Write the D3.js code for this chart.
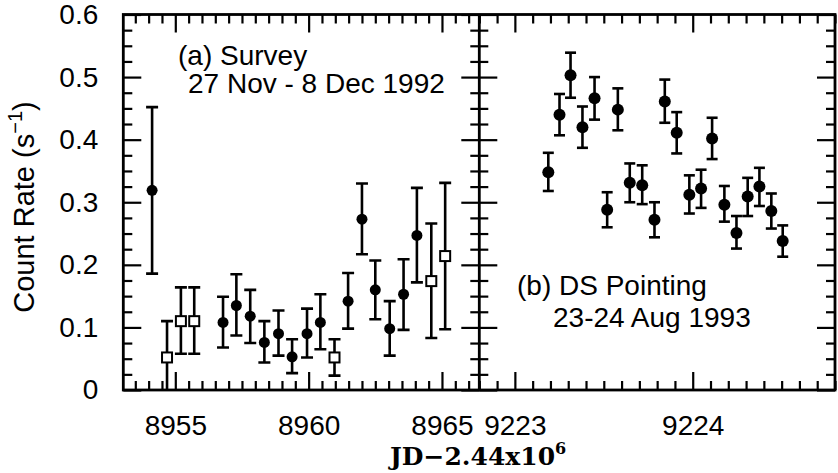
<!DOCTYPE html>
<html><head><meta charset="utf-8">
<script src="https://cdn.jsdelivr.net/npm/d3@7"></script>
<style>
body{margin:0;background:#fff;}
svg{display:block;}
text{font-family:"Liberation Sans",Arial,Helvetica,sans-serif;fill:#000;}
</style></head>
<body>
<svg id="c" width="838" height="473"></svg>
<script>
// ---- Panel (a): Survey, JD-2.44e6 ----
const surveyCircleJD  = [8954.13, 8956.79, 8957.29, 8957.81, 8958.34, 8958.87, 8959.38, 8959.94, 8960.44, 8961.48, 8962.00, 8962.50, 8963.04, 8963.56, 8964.06];
const surveyCircleVal = [0.319, 0.108, 0.135, 0.118, 0.076, 0.090, 0.053, 0.090, 0.108, 0.142, 0.273, 0.160, 0.098, 0.153, 0.247];
const surveyCircleHi  = [0.452, 0.149, 0.185, 0.160, 0.110, 0.127, 0.081, 0.130, 0.153, 0.187, 0.330, 0.207, 0.142, 0.209, 0.323];
const surveyCircleLo  = [0.186, 0.068, 0.087, 0.075, 0.044, 0.055, 0.027, 0.052, 0.065, 0.098, 0.217, 0.113, 0.055, 0.096, 0.172];

const surveySquareJD  = [8954.69, 8955.21, 8955.71, 8960.97, 8964.60, 8965.12];
const surveySquareVal = [0.052, 0.110, 0.110, 0.052, 0.174, 0.214];
const surveySquareHi  = [0.110, 0.164, 0.164, 0.081, 0.266, 0.331];
const surveySquareLo  = [-0.010, 0.058, 0.058, 0.023, 0.083, 0.097];

// ---- Panel (b): DS pointing ----
const pointJD  = [9223.188, 9223.251, 9223.313, 9223.380, 9223.448, 9223.519, 9223.579, 9223.646, 9223.716, 9223.785, 9223.843, 9223.910, 9223.981, 9224.047, 9224.109, 9224.178, 9224.246, 9224.309, 9224.375, 9224.442, 9224.506];
const pointVal = [0.348, 0.440, 0.503, 0.420, 0.466, 0.288, 0.448, 0.331, 0.327, 0.272, 0.461, 0.411, 0.312, 0.322, 0.402, 0.296, 0.251, 0.309, 0.325, 0.286, 0.238];
const pointHi  = [0.379, 0.473, 0.539, 0.453, 0.500, 0.316, 0.482, 0.362, 0.359, 0.300, 0.496, 0.444, 0.343, 0.352, 0.435, 0.326, 0.278, 0.339, 0.355, 0.314, 0.263];
const pointLo  = [0.318, 0.407, 0.467, 0.387, 0.432, 0.260, 0.415, 0.300, 0.297, 0.244, 0.427, 0.378, 0.282, 0.291, 0.369, 0.269, 0.226, 0.278, 0.294, 0.258, 0.213];

// ---- Axes ----
const yDomain = [0, 0.6];
const yMajorTicks = [0, 0.1, 0.2, 0.3, 0.4, 0.5, 0.6];
const yTickLabels = ["0", "0.1", "0.2", "0.3", "0.4", "0.5", "0.6"];
const leftDomain = [8953.05, 8966.4];
const leftMajorTicks = [8955, 8960, 8965];
const leftTickLabels = ["8955", "8960", "8965"];
const rightDomain = [9222.8, 9224.8];
const rightMajorTicks = [9223, 9224];
const rightTickLabels = ["9223", "9224"];

const yLabel = "Count Rate (s";
const xLabel = "JD\u22122.44x10";
const panelATitle = ["(a) Survey", "27 Nov - 8 Dec 1992"];
const panelBTitle = ["(b) DS Pointing", "23-24 Aug 1993"];

// ---- Layout ----
const svg = d3.select("#c");
const X0 = 123.3, XM = 479.3, X1 = 835, YT = 14.5, YB = 390;
const FS = 28;
const y = d3.scaleLinear().domain(yDomain).range([YB, YT]);
const xa = d3.scaleLinear().domain(leftDomain).range([X0, XM]);
const xb = d3.scaleLinear().domain(rightDomain).range([XM, X1]);

const yMinor = d3.range(0, 0.6001, 0.025).filter(v => Math.abs(v*10 - Math.round(v*10)) > 1e-6);
const leftMinor = d3.range(8953.5, 8966.4, 0.5).filter(v => v % 5 !== 0);
const rightMinor = d3.range(9222.8, 9224.8001, 0.1).map(v => +v.toFixed(1)).filter(v => Math.abs(v - Math.round(v)) > 1e-6);

const MAJ = 18, MIN = 9;
function styleAxis(g){
  g.select(".domain").remove();
  g.selectAll(".tick line").attr("stroke","#000").attr("stroke-width",2.2);
  g.selectAll("text").attr("font-size",FS).attr("font-family","Liberation Sans, Arial, sans-serif").attr("fill","#000");
}
function panelAxes(x, xMaj, xMin, xLabels, showY){
  svg.append("g").attr("transform",`translate(0,${YB})`)
    .call(d3.axisBottom(x).tickValues(xMaj).tickSize(-MAJ).tickPadding(25)
      .tickFormat((d,i)=>xLabels[i])).call(styleAxis);
  svg.append("g").attr("transform",`translate(0,${YB})`)
    .call(d3.axisBottom(x).tickValues(xMin).tickSize(-MIN).tickFormat("")).call(styleAxis);
  svg.append("g").attr("transform",`translate(0,${YT})`)
    .call(d3.axisTop(x).tickValues(xMaj).tickSize(-MAJ).tickFormat("")).call(styleAxis);
  svg.append("g").attr("transform",`translate(0,${YT})`)
    .call(d3.axisTop(x).tickValues(xMin).tickSize(-MIN).tickFormat("")).call(styleAxis);
  const [xl, xr] = x.range();
  svg.append("g").attr("transform",`translate(${xl},0)`)
    .call(d3.axisLeft(y).tickValues(yMajorTicks).tickSize(-MAJ).tickPadding(25)
      .tickFormat((d,i)=> showY ? yTickLabels[i] : "")).call(styleAxis);
  svg.append("g").attr("transform",`translate(${xl},0)`)
    .call(d3.axisLeft(y).tickValues(yMinor).tickSize(-MIN).tickFormat("")).call(styleAxis);
  svg.append("g").attr("transform",`translate(${xr},0)`)
    .call(d3.axisRight(y).tickValues(yMajorTicks).tickSize(-MAJ).tickFormat("")).call(styleAxis);
  svg.append("g").attr("transform",`translate(${xr},0)`)
    .call(d3.axisRight(y).tickValues(yMinor).tickSize(-MIN).tickFormat("")).call(styleAxis);
}
panelAxes(xa, leftMajorTicks, leftMinor, leftTickLabels, true);
panelAxes(xb, rightMajorTicks, rightMinor, rightTickLabels, false);

svg.append("rect").attr("x",X0).attr("y",YT).attr("width",X1-X0).attr("height",YB-YT)
  .attr("fill","none").attr("stroke","#000").attr("stroke-width",2.8);
svg.append("line").attr("x1",XM).attr("x2",XM).attr("y1",YT).attr("y2",YB)
  .attr("stroke","#000").attr("stroke-width",2.8);

svg.append("clipPath").attr("id","clipA").append("rect")
  .attr("x",X0).attr("y",YT).attr("width",XM-X0).attr("height",YB-YT);

function errorBars(g, x, xs, lo, hi, cap){
  xs.forEach((d,i)=>{
    const cx = x(d);
    g.append("line").attr("x1",cx).attr("x2",cx).attr("y1",y(Math.max(lo[i],yDomain[0]-0.02))).attr("y2",y(hi[i]))
      .attr("stroke","#000").attr("stroke-width",2.6);
    g.append("line").attr("x1",cx-cap).attr("x2",cx+cap).attr("y1",y(hi[i])).attr("y2",y(hi[i]))
      .attr("stroke","#000").attr("stroke-width",2.6);
    if (lo[i] > yDomain[0])
      g.append("line").attr("x1",cx-cap).attr("x2",cx+cap).attr("y1",y(lo[i])).attr("y2",y(lo[i]))
        .attr("stroke","#000").attr("stroke-width",2.6);
  });
}
const ga = svg.append("g").attr("clip-path","url(#clipA)");
errorBars(ga, xa, surveyCircleJD, surveyCircleLo, surveyCircleHi, 6);
errorBars(ga, xa, surveySquareJD, surveySquareLo, surveySquareHi, 6);
ga.selectAll("circle.pa").data(surveyCircleJD).join("circle")
  .attr("cx",d=>xa(d)).attr("cy",(d,i)=>y(surveyCircleVal[i])).attr("r",5.5).attr("fill","#000");
const SQ = 10;
ga.selectAll("rect.sq").data(surveySquareJD).join("rect")
  .attr("x",d=>xa(d)-SQ/2).attr("y",(d,i)=>y(surveySquareVal[i])-SQ/2)
  .attr("width",SQ).attr("height",SQ).attr("fill","#fff").attr("stroke","#000").attr("stroke-width",2);

const gb = svg.append("g");
errorBars(gb, xb, pointJD, pointLo, pointHi, 5.5);
gb.selectAll("circle").data(pointJD).join("circle")
  .attr("cx",d=>xb(d)).attr("cy",(d,i)=>y(pointVal[i])).attr("r",6).attr("fill","#000");

svg.append("text").attr("x",178).attr("y",65).attr("font-size",FS).text(panelATitle[0]);
svg.append("text").attr("x",188).attr("y",93).attr("font-size",FS).text(panelATitle[1]);
svg.append("text").attr("x",517).attr("y",295).attr("font-size",FS).text(panelBTitle[0]);
svg.append("text").attr("x",553).attr("y",327).attr("font-size",FS).text(panelBTitle[1]);

const yl = svg.append("text").attr("transform","translate(34,207) rotate(-90)")
  .attr("text-anchor","middle").attr("font-size",29);
yl.append("tspan").text(yLabel);
yl.append("tspan").attr("font-size",20).attr("dy",-12).text("\u22121");
yl.append("tspan").attr("dy",12).text(")");

const xlab = svg.append("text").attr("x",390).attr("y",465)
  .attr("font-family","DejaVu Serif, serif").attr("font-weight","bold").attr("font-size",25);
xlab.append("tspan").style("font-family","DejaVu Serif, serif").text(xLabel);
xlab.append("tspan").style("font-family","DejaVu Serif, serif").attr("font-size",16).attr("dy",-11).text("6");
</script>
</body></html>
